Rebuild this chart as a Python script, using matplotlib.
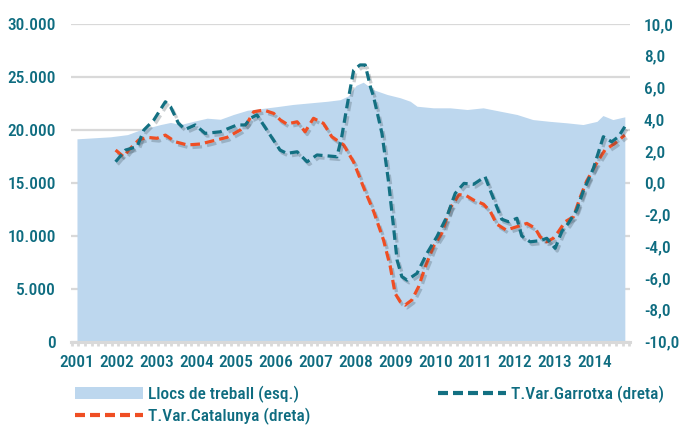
import os
import matplotlib
matplotlib.use("Agg")
import matplotlib.pyplot as plt
import matplotlib.patheffects as pe
from matplotlib import font_manager as fm
from matplotlib.lines import Line2D
from matplotlib.patches import Patch
import numpy as np

# Llocs de treball (left axis)
llocs_t = [2001.0, 2001.84, 2002.27, 2002.59, 2003.10, 2003.35, 2003.60, 2003.92,
           2004.27, 2004.60, 2004.93, 2005.28, 2005.61, 2006.04, 2006.43, 2006.86,
           2007.29, 2007.61, 2007.81, 2008.01, 2008.19, 2008.44, 2008.79, 2009.12,
           2009.37, 2009.54, 2009.95, 2010.37, 2010.80, 2011.20, 2011.63, 2012.05,
           2012.45, 2012.88, 2013.31, 2013.71, 2014.06, 2014.21, 2014.46, 2014.76]
llocs = [19150, 19340, 19550, 20000, 20500, 20700, 20500, 20800,
         21100, 21000, 21450, 21850, 22000, 22200, 22400, 22550,
         22700, 22850, 23200, 24200, 24500, 23800, 23340, 23030,
         22700, 22230, 22080, 22080, 21920, 22080, 21760, 21450,
         20970, 20800, 20660, 20500, 20800, 21350, 20970, 21230]

# T.Var. Garrotxa (right axis, %)
garrotxa_t = [2001.97, 2002.22, 2002.51, 2002.68, 2002.93, 2003.22, 2003.35, 2003.55,
              2003.72, 2003.97, 2004.22, 2004.60, 2005.02, 2005.23, 2005.35, 2005.52,
              2005.77, 2006.10, 2006.27, 2006.53, 2006.78, 2007.03, 2007.53, 2007.65,
              2007.78, 2007.95, 2008.11, 2008.24, 2008.37, 2008.45, 2008.66, 2008.82,
              2008.95, 2009.04, 2009.16, 2009.29, 2009.54, 2009.79, 2010.04, 2010.29,
              2010.50, 2010.72, 2010.96, 2011.25, 2011.43, 2011.67, 2011.84, 2012.05,
              2012.17, 2012.38, 2012.63, 2012.80, 2013.01, 2013.18, 2013.34, 2013.55,
              2013.72, 2013.97, 2014.22, 2014.43, 2014.60, 2014.76]
garrotxa = [1.32, 2.06, 2.27, 3.32, 3.95, 5.1, 4.79, 3.74,
            3.36, 3.64, 3.11, 3.21, 3.64, 3.64, 4.06, 4.27,
            3.32, 2.06, 1.85, 1.95, 1.32, 1.75, 1.64, 2.9,
            4.79, 7.1, 7.42, 7.42, 6.05, 5.42, 3.11, 0.17,
            -2.77, -4.87, -5.92, -6.13, -5.71, -4.45, -3.4, -2.14,
            -0.67, -0.04, -0.1, 0.38, -0.8, -2.3, -2.46, -2.24,
            -3.35, -3.72, -3.65, -3.5, -4.13, -3.05, -2.56, -1.72,
            -0.5, 0.9, 2.9, 2.58, 2.9, 3.53]

# T.Var. Catalunya (right axis, %)
catalunya_t = [2001.97, 2002.17, 2002.30, 2002.55, 2002.76, 2003.01, 2003.22, 2003.47,
               2003.77, 2004.10, 2004.43, 2004.77, 2005.10, 2005.27, 2005.44, 2005.69,
               2005.94, 2006.11, 2006.27, 2006.53, 2006.73, 2006.94, 2007.19, 2007.40,
               2007.70, 2007.95, 2008.20, 2008.45, 2008.70, 2008.87, 2008.99, 2009.12,
               2009.24, 2009.41, 2009.58, 2009.75, 2009.95, 2010.16, 2010.37, 2010.60,
               2010.77, 2010.96, 2011.21, 2011.38, 2011.54, 2011.78, 2012.05, 2012.30,
               2012.51, 2012.63, 2012.80, 2012.96, 2013.09, 2013.26, 2013.47, 2013.63,
               2013.80, 2014.05, 2014.26, 2014.51, 2014.76]
catalunya = [2.06, 1.64, 2.06, 2.69, 2.86, 2.8, 3.0, 2.58,
             2.38, 2.44, 2.65, 2.86, 3.32, 3.74, 4.47, 4.58,
             4.37, 3.95, 3.7, 3.84, 3.21, 4.06, 3.74, 2.9,
             2.38, 1.3, -0.3, -1.8, -3.61, -5.29, -6.97, -7.5,
             -7.71, -7.39, -6.55, -5.29, -4.03, -3.19, -1.6, -0.75,
             -0.8, -1.09, -1.35, -1.8, -2.6, -2.98, -2.77, -2.56,
             -2.87, -3.4, -3.72, -3.5, -3.09, -2.46, -2.14, -0.98,
             0.1, 1.22, 2.06, 2.48, 3.0]

years = list(range(2001, 2015))
left_ticks = [0, 5000, 10000, 15000, 20000, 25000, 30000]
right_ticks = [-10, -8, -6, -4, -2, 0, 2, 4, 6, 8, 10]

TEAL = '#137082'
ORANGE = '#ef4e23'
AREA = '#bdd7ee'
GRID = '#d9d9d9'
TXT = '#0e6c80'


# the original uses a narrow font; take whatever narrow face is around
def pick_font():
    prefs = [('liberationsansnarrow-regular', 13), ('arialn.', 13),
             ('robotocondensed-medium', 12.5), ('robotocondensed-regular', 13),
             ('dejavusanscondensed.', 11.5)]
    files = [f.fname for f in fm.fontManager.ttflist]
    for key, size in prefs:
        for fn in files:
            if key in os.path.basename(fn).lower():
                return fm.FontProperties(fname=fn, size=size)
    return fm.FontProperties(family='Liberation Sans', size=11.5)


fp = pick_font()

fig = plt.figure(figsize=(6.82, 4.26), dpi=100)
ax = fig.add_axes([71 / 682, 1 - 341.5 / 426, (630 - 71) / 682, (341.5 - 24) / 426])
ax2 = ax.twinx()

# area on the left axis
ax.fill_between(llocs_t, llocs, 0, color=AREA, lw=0, zorder=2)
ax.set_ylim(0, 30000)
ax.set_xlim(2000.85, 2014.89)
ax.set_yticks(left_ticks)
ax.set_yticklabels([f"{v:,}".replace(",", ".") for v in left_ticks])
ax.grid(axis='y', color=GRID, lw=1.6)
ax.set_axisbelow(True)

# lines on the right axis
shadow = [pe.SimpleLineShadow(offset=(1.5, -2), shadow_color='#30404a', alpha=0.25),
          pe.Normal()]
ax2.plot(catalunya_t, catalunya, color=ORANGE, lw=2.3, dashes=(3.0, 1.6),
         path_effects=shadow, zorder=3)
ax2.plot(garrotxa_t, garrotxa, color=TEAL, lw=2.3, dashes=(3.0, 1.6),
         path_effects=shadow, zorder=4)
ax2.set_ylim(-10, 10)
ax2.set_yticks(right_ticks)
ax2.set_yticklabels([f"{v:.1f}".replace(".", ",") for v in right_ticks])

# axes styling
for a in (ax, ax2):
    for s in a.spines.values():
        s.set_visible(False)
ax.spines['bottom'].set_visible(True)
ax.spines['bottom'].set_color(GRID)
ax.spines['bottom'].set_linewidth(2.2)

ax.set_xticks(years)
ax.set_xticklabels([str(y) for y in years])
ax.set_xticks(np.arange(2000.87, 2014.9, 1 / 6), minor=True)
ax.tick_params(axis='x', which='major', length=0, pad=10, labelcolor=TXT)
ax.tick_params(axis='x', which='minor', length=3, width=2, color=GRID, direction='out')
ax.tick_params(axis='y', length=0, pad=11, labelcolor=TXT)
ax2.tick_params(axis='y', length=0, pad=10, labelcolor=TXT)
for lbl in ax.get_xticklabels() + ax.get_yticklabels() + ax2.get_yticklabels():
    lbl.set_fontproperties(fp)

# legend
h_area = Patch(facecolor=AREA, edgecolor='none')
h_cat = Line2D([], [], color=ORANGE, lw=3, dashes=(2.4, 1.2))
h_gar = Line2D([], [], color=TEAL, lw=3, dashes=(2.4, 1.2))
leg_kw = dict(frameon=False, prop=fp, handlelength=3.9, handletextpad=0.3,
              labelspacing=0.28, borderpad=0, borderaxespad=0, labelcolor=TXT,
              loc='upper left')
fig.legend([h_area, h_cat], ['Llocs de treball (esq.)', 'T.Var.Catalunya (dreta)'],
           bbox_to_anchor=(75 / 682, 1 - 386 / 426), **leg_kw)
fig.legend([h_gar], ['T.Var.Garrotxa (dreta)'],
           bbox_to_anchor=(438 / 682, 1 - 386 / 426), **leg_kw)

fig.savefig('out.png', dpi=100)
